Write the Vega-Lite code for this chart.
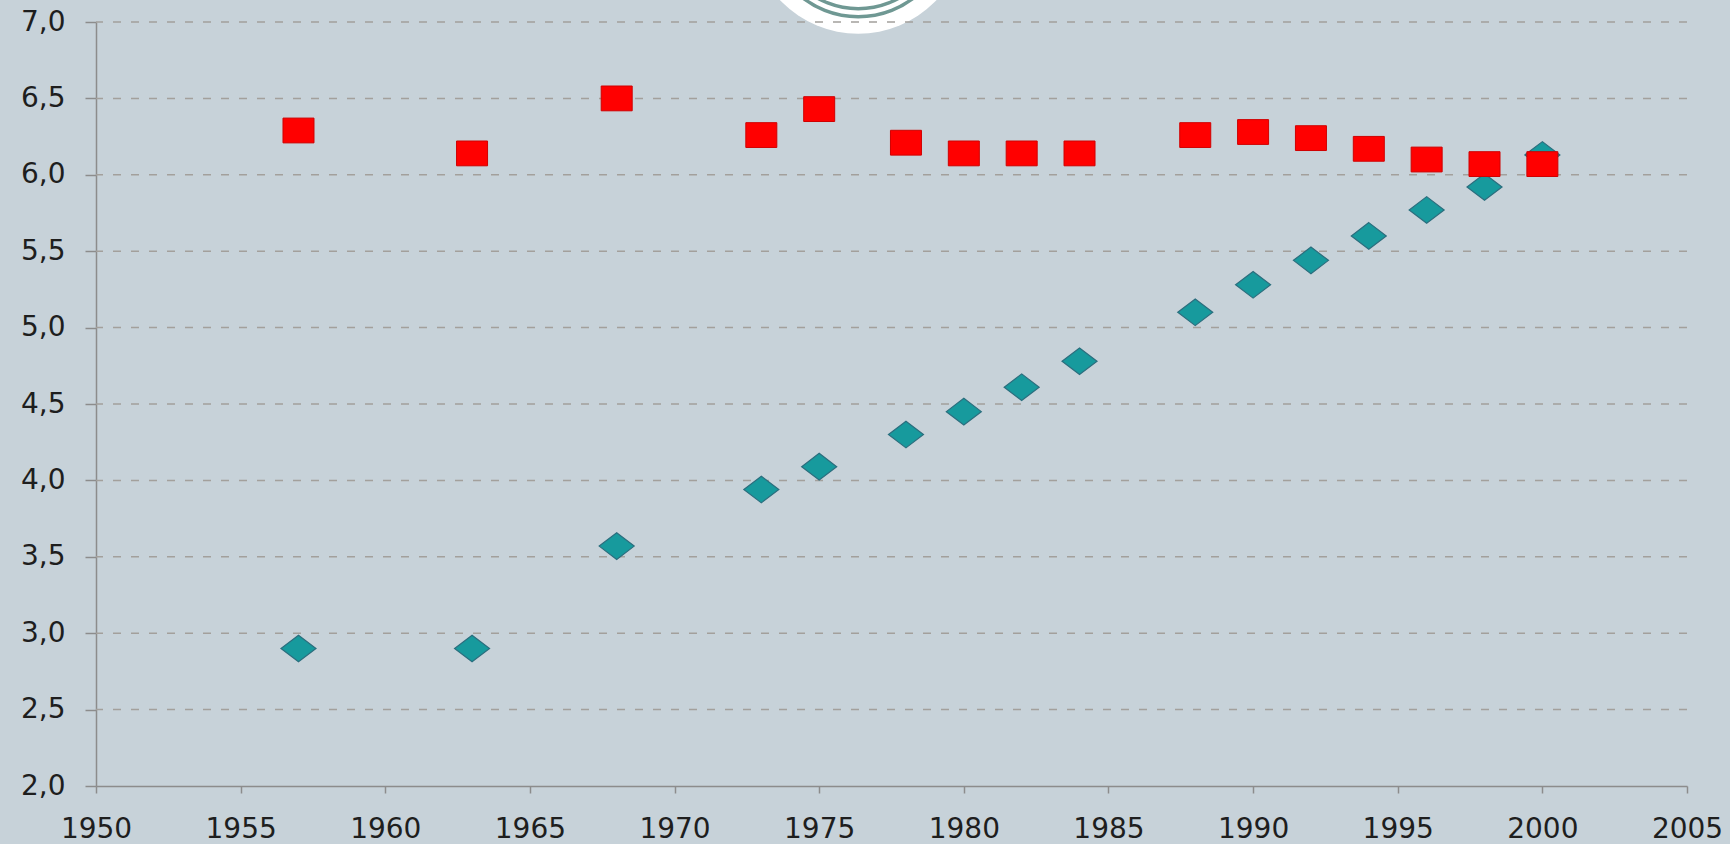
{
  "$schema": "https://vega.github.io/schema/vega-lite/v6.json",
  "autosize": {"type": "none"},
  "padding": {"left": 96, "top": 22, "right": 43, "bottom": 58},
  "width": 1591,
  "height": 764,
  "background": "#c7d2d9",
  "config": {
    "view": {"stroke": null},
    "axis": {"labelFont": "DejaVu Sans", "labelFontSize": 28, "labelColor": "#1e1e1e", "domainColor": "#8c8c8c", "tickColor": "#8c8c8c", "domainWidth": 1.5, "tickWidth": 1.5, "grid": false, "title": null}
  },
  "datasets": {
    "logo": [{"year": 1976.35, "value": 7.63}],
    "grid": [{"value": 2.5}, {"value": 3.0}, {"value": 3.5}, {"value": 4.0}, {"value": 4.5}, {"value": 5.0}, {"value": 5.5}, {"value": 6.0}, {"value": 6.5}, {"value": 7.0}],
    "points": [
      {"year": 1957, "series": "A", "value": 6.29},
      {"year": 1963, "series": "A", "value": 6.14},
      {"year": 1968, "series": "A", "value": 6.50},
      {"year": 1973, "series": "A", "value": 6.26},
      {"year": 1975, "series": "A", "value": 6.43},
      {"year": 1978, "series": "A", "value": 6.21},
      {"year": 1980, "series": "A", "value": 6.14},
      {"year": 1982, "series": "A", "value": 6.14},
      {"year": 1984, "series": "A", "value": 6.14},
      {"year": 1988, "series": "A", "value": 6.26},
      {"year": 1990, "series": "A", "value": 6.28},
      {"year": 1992, "series": "A", "value": 6.24},
      {"year": 1994, "series": "A", "value": 6.17},
      {"year": 1996, "series": "A", "value": 6.10},
      {"year": 1998, "series": "A", "value": 6.07},
      {"year": 2000, "series": "A", "value": 6.07},
      {"year": 1957, "series": "B", "value": 2.90},
      {"year": 1963, "series": "B", "value": 2.90},
      {"year": 1968, "series": "B", "value": 3.57},
      {"year": 1973, "series": "B", "value": 3.94},
      {"year": 1975, "series": "B", "value": 4.09},
      {"year": 1978, "series": "B", "value": 4.30},
      {"year": 1980, "series": "B", "value": 4.45},
      {"year": 1982, "series": "B", "value": 4.61},
      {"year": 1984, "series": "B", "value": 4.78},
      {"year": 1988, "series": "B", "value": 5.10},
      {"year": 1990, "series": "B", "value": 5.28},
      {"year": 1992, "series": "B", "value": 5.44},
      {"year": 1994, "series": "B", "value": 5.60},
      {"year": 1996, "series": "B", "value": 5.77},
      {"year": 1998, "series": "B", "value": 5.92},
      {"year": 2000, "series": "B", "value": 6.13}
    ]
  },
  "encoding": {
    "y": {"field": "value", "type": "quantitative", "scale": {"domain": [2, 7], "nice": false, "zero": false},
      "axis": {"values": [2, 2.5, 3, 3.5, 4, 4.5, 5, 5.5, 6, 6.5, 7], "labelExpr": "replace(format(datum.value, '.1f'), '.', ',')", "tickSize": 11, "labelPadding": 20, "labelOverlap": false}}
  },
  "layer": [
    {"data": {"name": "logo"}, "mark": {"type": "point", "shape": "circle", "filled": true, "fill": "#ffffff", "opacity": 1, "size": 46656, "strokeWidth": 0},
      "encoding": {"x": {"field": "year", "type": "quantitative", "scale": {"domain": [1950, 2005], "nice": false, "zero": false},
        "axis": {"values": [1950, 1955, 1960, 1965, 1970, 1975, 1980, 1985, 1990, 1995, 2000, 2005], "format": "d", "tickSize": 7, "labelPadding": 22, "labelFlush": false, "labelOverlap": false}}}},
    {"data": {"name": "logo"}, "mark": {"type": "point", "shape": "circle", "filled": false, "stroke": "#6f9893", "strokeWidth": 3.5, "opacity": 1, "size": 33124},
      "encoding": {"x": {"field": "year", "type": "quantitative", "scale": {"domain": [1950, 2005], "nice": false, "zero": false},
        "axis": {"values": [1950, 1955, 1960, 1965, 1970, 1975, 1980, 1985, 1990, 1995, 2000, 2005], "format": "d", "tickSize": 7, "labelPadding": 22, "labelFlush": false, "labelOverlap": false}}}},
    {"data": {"name": "logo"}, "mark": {"type": "point", "shape": "circle", "filled": false, "stroke": "#6f9893", "strokeWidth": 3.5, "opacity": 1, "size": 27556},
      "encoding": {"x": {"field": "year", "type": "quantitative", "scale": {"domain": [1950, 2005], "nice": false, "zero": false},
        "axis": {"values": [1950, 1955, 1960, 1965, 1970, 1975, 1980, 1985, 1990, 1995, 2000, 2005], "format": "d", "tickSize": 7, "labelPadding": 22, "labelFlush": false, "labelOverlap": false}}}},
    {"data": {"name": "grid"}, "mark": {"type": "rule", "color": "#a3a09c", "strokeWidth": 1.5, "strokeDash": [8, 10]}},
    {"data": {"name": "points"}, "transform": [{"filter": "datum.series === 'B'"}],
      "mark": {"type": "point", "shape": "M0,-0.76L1,0L0,0.76L-1,0Z", "filled": true, "fill": "#179a9d", "stroke": "#2b6e7e", "strokeWidth": 1.2, "opacity": 1, "size": 1225},
      "encoding": {"x": {"field": "year", "type": "quantitative", "scale": {"domain": [1950, 2005], "nice": false, "zero": false},
        "axis": {"values": [1950, 1955, 1960, 1965, 1970, 1975, 1980, 1985, 1990, 1995, 2000, 2005], "format": "d", "tickSize": 7, "labelPadding": 22, "labelFlush": false, "labelOverlap": false}}}},
    {"data": {"name": "points"}, "transform": [{"filter": "datum.series === 'A'"}],
      "mark": {"type": "point", "shape": "M-1,-0.8L1,-0.8L1,0.8L-1,0.8Z", "filled": true, "fill": "#ff0000", "stroke": "#d00000", "strokeWidth": 1, "opacity": 1, "size": 961},
      "encoding": {"x": {"field": "year", "type": "quantitative", "scale": {"domain": [1950, 2005], "nice": false, "zero": false},
        "axis": {"values": [1950, 1955, 1960, 1965, 1970, 1975, 1980, 1985, 1990, 1995, 2000, 2005], "format": "d", "tickSize": 7, "labelPadding": 22, "labelFlush": false, "labelOverlap": false}}}}
  ]
}
